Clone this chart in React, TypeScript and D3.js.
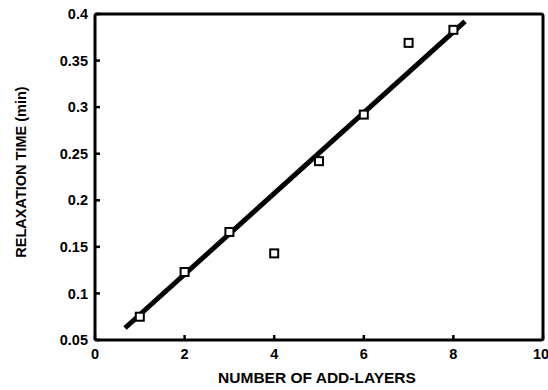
import React from "react";
import * as d3 from "d3";

const layers = [1, 2, 3, 4, 5, 6, 7, 8];
const relaxTime = [0.075, 0.123, 0.166, 0.143, 0.242, 0.292, 0.369, 0.383];
const fitStart = [0.67, 0.0629];
const fitEnd = [8.26, 0.392];
const xTicks = [0, 2, 4, 6, 8, 10];
const yTicks = [0.05, 0.1, 0.15, 0.2, 0.25, 0.3, 0.35, 0.4];
const xTitle = "NUMBER OF ADD-LAYERS";
const yTitle = "RELAXATION TIME (min)";

export default function App() {
  const W = 548, H = 390;
  const x = d3.scaleLinear().domain([0, 10]).range([95, 543]);
  const y = d3.scaleLinear().domain([0.05, 0.4]).range([340, 14]);
  const font = "'Liberation Sans', Arial, Helvetica, sans-serif";
  const line = d3.line<number[]>().x(d => x(d[0])).y(d => y(d[1]));
  const fmt = (v: number) => String(+v.toFixed(2));
  return (
    <svg width={W} height={H} style={{ position: "absolute", left: 0, top: 0, background: "#fff" }}>
      <rect x={0} y={0} width={W} height={H} fill="#fff" />
      <rect x={x(0)} y={y(0.4)} width={x(10) - x(0)} height={y(0.05) - y(0.4)} fill="none" stroke="#000" strokeWidth={3} rx={2} />
      {yTicks.map(t => (
        <g key={"y" + t}>
          <line x1={x(0)} x2={x(0) + 5} y1={y(t)} y2={y(t)} stroke="#000" strokeWidth={2.5} />
          <text x={88} y={y(t)} dy="0.35em" textAnchor="end" fontFamily={font} fontWeight="bold" fontSize={14.5} fill="#000">{fmt(t)}</text>
        </g>
      ))}
      {xTicks.map(t => (
        <g key={"x" + t}>
          <line x1={x(t)} x2={x(t)} y1={y(0.05)} y2={y(0.05) - 5} stroke="#000" strokeWidth={2.5} />
          <text x={t === 10 ? x(t) - 2 : x(t)} y={354} dy="0.35em" textAnchor="middle" fontFamily={font} fontWeight="bold" fontSize={14.5} fill="#000">{t}</text>
        </g>
      ))}
      <path d={line([fitStart, fitEnd]) || ""} stroke="#000" strokeWidth={5} fill="none" />
      {layers.map((l, i) => (
        <rect key={"p" + l} x={x(l) - 4} y={y(relaxTime[i]) - 4} width={8} height={8} fill="#fff" stroke="#000" strokeWidth={2} />
      ))}
      <text x={317} y={378} dy="0.35em" textAnchor="middle" fontFamily={font} fontWeight="bold" fontSize={15.5} fill="#000">{xTitle}</text>
      <text transform={`translate(21,172) rotate(-90)`} textAnchor="middle" dy="0.35em" fontFamily={font} fontWeight="bold" fontSize={14.5} fill="#000">{yTitle}</text>
    </svg>
  );
}
